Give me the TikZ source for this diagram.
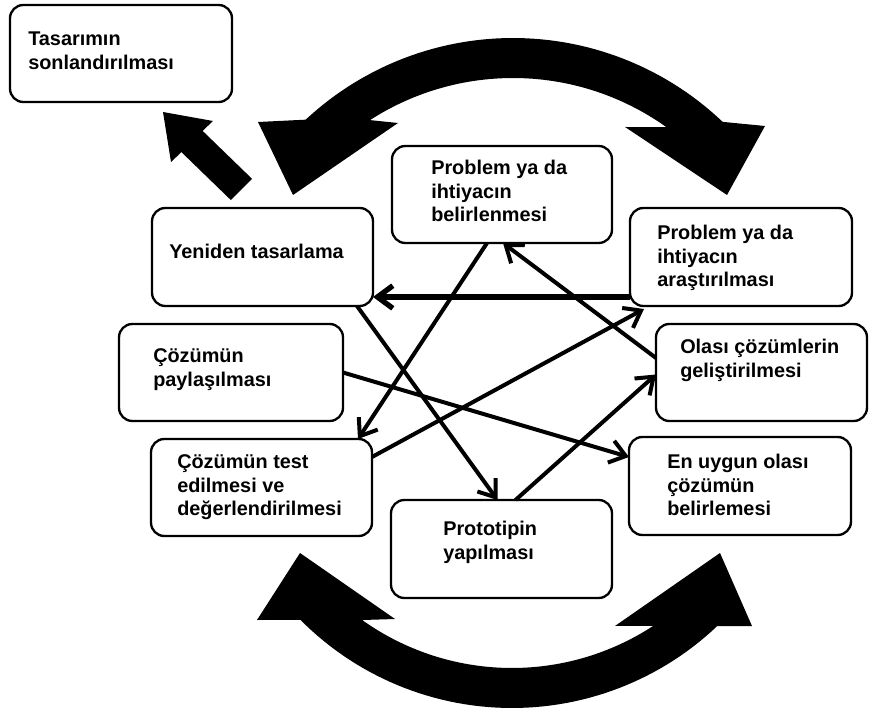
\documentclass[tikz,border=0pt]{standalone}
\usepackage{fontspec}
\setmainfont{Liberation Sans}
\usetikzlibrary{arrows.meta,calc}
\begin{document}
\begin{tikzpicture}[x=0.75pt,y=-0.75pt,
  box/.style={draw=black, line width=1.75pt, rounded corners=10pt, inner sep=0pt, outer sep=0pt},
  lbl/.style={anchor=base west, inner sep=0pt, font=\bfseries\fontsize{14.9pt}{17.6pt}\selectfont},
  conn/.style={line width=3pt, -{Straight Barb[length=11.5pt,width=17pt]}},
  bigarrow/.style={fill=black}
]
\useasboundingbox (0,0) rectangle (869,713);
\fill[white] (0,0) rectangle (869,713);

% boxes
\node[box, minimum width=222*0.75pt, minimum height=97*0.75pt] (tas) at (121,53.5) {};
\node[box, minimum width=220*0.75pt, minimum height=97*0.75pt] (bel) at (502,194.5) {};
\node[box, minimum width=221*0.75pt, minimum height=98*0.75pt] (yen) at (262.5,257) {};
\node[box, minimum width=222*0.75pt, minimum height=98*0.75pt] (ara) at (741,257) {};
\node[box, minimum width=224*0.75pt, minimum height=97*0.75pt] (pay) at (231,372.5) {};
\node[box, minimum width=211*0.75pt, minimum height=97*0.75pt] (ola) at (761.5,372.5) {};
\node[box, minimum width=221*0.75pt, minimum height=97*0.75pt] (test) at (261.5,487.5) {};
\node[box, minimum width=222*0.75pt, minimum height=98*0.75pt] (eny) at (740,486) {};
\node[box, minimum width=221*0.75pt, minimum height=98*0.75pt] (pro) at (501.5,549) {};

% texts
\node[lbl] (tast) at (28,46) {\parbox[t]{250pt}{Tasarımın\\sonlandırılması}};
\node[lbl] (belt) at (431,175) {\parbox[t]{250pt}{Problem ya da\\ihtiyacın\\belirlenmesi}};
\node[lbl] (yent) at (169,259) {\parbox[t]{250pt}{Yeniden tasarlama}};
\node[lbl] (arat) at (657,240) {\parbox[t]{250pt}{Problem ya da\\ihtiyacın\\araştırılması}};
\node[lbl] (payt) at (153,363) {\parbox[t]{250pt}{Çözümün\\paylaşılması}};
\node[lbl] (olat) at (680,354) {\parbox[t]{250pt}{Olası çözümlerin\\geliştirilmesi}};
\node[lbl] (testt) at (177,469) {\parbox[t]{250pt}{Çözümün test\\edilmesi ve\\değerlendirilmesi}};
\node[lbl] (enyt) at (667,469) {\parbox[t]{250pt}{En uygun olası\\çözümün\\belirlemesi}};
\node[lbl] (prot) at (443,536) {\parbox[t]{250pt}{Prototipin\\yapılması}};

% connectors
\draw[conn] ($(bel.south)+(-15,0)$) -- ($(test.north east)+(-14,0)$);
\draw[conn] ($(yen.south east)+(-16,0)$) -- ($(pro.north)+(-4,0)$);
\draw[conn, line width=4pt] ($(ara.south west)+(0,-9)$) -- ($(yen.south east)+(0,-9)$);
\draw[conn] (pay.east) -- ($(eny.north west)+(0,20)$);
\draw[conn] ($(test.north east)+(0,18)$) -- ($(ara.south west)+(14,3)$);
\draw[conn] ($(ola.north west)+(0,34)$) -- ($(bel.south)+(1,0)$);
\draw[conn] ($(pro.north)+(14,0)$) -- ($(ola.west)+(0,2)$);

% small thick arrow towards the final box
\fill[bigarrow] (163,112) -- (213,121) -- (202.6,130.9) -- (252.1,178.9) -- (230.9,200.1) -- (181.4,152.1) -- (171,162) -- cycle;

% top big curved double arrow
\fill[bigarrow] (258,122) -- (293,195) -- (398,123)
  -- plot[domain=-122.8:-54.5, samples=60] ({513+264*cos(\x)},{342+264*sin(\x)})
  -- (625,127) -- (727,195) -- (765,126)
  -- plot[domain=-46.4:-133, samples=60] ({513+304*cos(\x)},{342+304*sin(\x)}) -- cycle;

% bottom big curved double arrow
\fill[bigarrow] (257,620) -- (300,553) -- (395,619)
  -- plot[domain=125.5:56.8, samples=60] ({512+258*cos(\x)},{410+258*sin(\x)})
  -- (615,626) -- (720,553) -- (752,626)
  -- plot[domain=46.5:135.2, samples=60] ({512+298*cos(\x)},{410+298*sin(\x)}) -- cycle;
\end{tikzpicture}
\end{document}
